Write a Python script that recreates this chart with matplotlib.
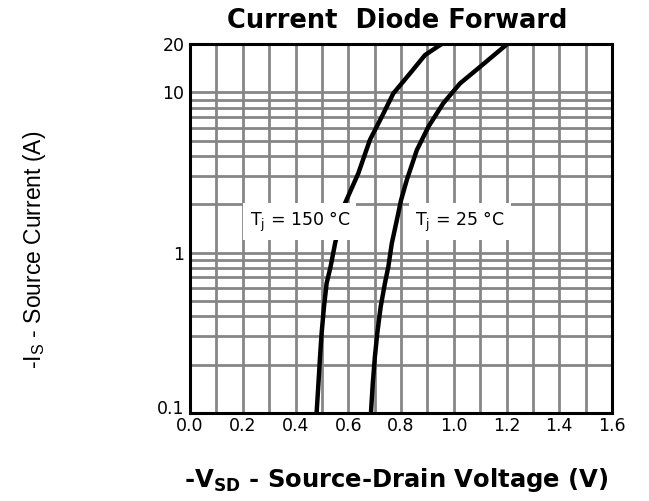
import numpy as np
import matplotlib.pyplot as plt
import matplotlib.transforms as mtransforms
from matplotlib.ticker import FixedLocator, NullFormatter

plt.rcParams['font.family'] = ['DejaVu Sans']

# Forward voltage (V) vs source current (A)
v_150 = [0.480, 0.487, 0.493, 0.499, 0.508, 0.518, 0.533, 0.550, 0.583, 0.638,
         0.682, 0.727, 0.771, 0.834, 0.891, 0.948, 0.955]
i_150 = [0.1, 0.153, 0.224, 0.314, 0.46, 0.644, 0.817, 1.14, 1.95, 3.12,
         5.04, 7.03, 9.84, 13.1, 17.06, 19.7, 20]
v_25 = [0.686, 0.693, 0.701, 0.710, 0.723, 0.739, 0.752, 0.765, 0.784, 0.800,
        0.822, 0.860, 0.904, 0.960, 1.024, 1.100, 1.175, 1.203]
i_25 = [0.1, 0.153, 0.224, 0.314, 0.46, 0.644, 0.817, 1.14, 1.59, 2.12,
        2.84, 4.36, 6.10, 8.53, 11.36, 14.42, 18.3, 20]

x_ticks = [0.0, 0.2, 0.4, 0.6, 0.8, 1.0, 1.2, 1.4, 1.6]
y_ticks = [0.1, 1, 10, 20]
y_labels = ['0.1', '1', '10', '20']

fig = plt.figure(figsize=(6.49, 5.01), dpi=100)
ax = fig.add_axes([190/649, 1 - 413/501, 422/649, 369/501])

ax.set_yscale('log')
ax.set_xlim(0, 1.6)
ax.set_ylim(0.1, 20)

# grid: every 0.1 V, and 1-9 per decade
ax.xaxis.set_minor_locator(FixedLocator(np.arange(0.1, 1.6, 0.1)))
minor_y = [m * d for d in [0.1, 1, 10] for m in range(2, 10)]
ax.yaxis.set_minor_locator(FixedLocator(minor_y))
ax.yaxis.set_minor_formatter(NullFormatter())
ax.grid(True, which='both', color='#868686', linewidth=2)
ax.set_axisbelow(True)

ax.plot(v_150, i_150, color='black', linewidth=3.2, solid_capstyle='butt', zorder=2)
ax.plot(v_25, i_25, color='black', linewidth=3.2, solid_capstyle='butt', zorder=2)

ax.set_xticks(x_ticks)
ax.set_xticklabels([f'{t:.1f}' for t in x_ticks])
ax.set_yticks(y_ticks)
ax.set_yticklabels(y_labels)
ax.tick_params(which='both', length=0, labelsize=12.5, pad=3)
ax.tick_params(axis='y', pad=4)
# lift the bottom y label so it sits above the 0.0 label
lbl = ax.get_yticklabels()[0]
lbl.set_transform(lbl.get_transform() + mtransforms.ScaledTranslation(0, 4/72, fig.dpi_scale_trans))
for s in ax.spines.values():
    s.set_linewidth(2.2)
    s.set_zorder(5)

box = dict(facecolor='white', edgecolor='none', boxstyle='square,pad=0.35')
ax.text(0.417, 1.56, r'T$_\mathregular{j}$ = 150 °C', fontsize=12.5, ha='center', va='center',
        bbox=box, zorder=4)
ax.text(1.024, 1.56, r'T$_\mathregular{j}$ = 25 °C', fontsize=12.5, ha='center', va='center',
        bbox=box, zorder=4)

fig.text(397/649, 1 - 28/501, 'Current  Diode Forward', fontsize=18.5, fontweight='bold',
         ha='center', va='baseline')
fig.text(396/649, 1 - 487/501, r'-V$_\mathregular{SD}$ - Source-Drain Voltage (V)', fontsize=17.5,
         fontweight='bold', ha='center', va='baseline')
fig.text(35/649, 1 - 250/501, r'-I$_\mathregular{S}$ - Source Current (A)', fontsize=16.5,
         family=['Liberation Sans'], rotation=90, ha='center', va='center')

fig.savefig('out.png', dpi=100)
